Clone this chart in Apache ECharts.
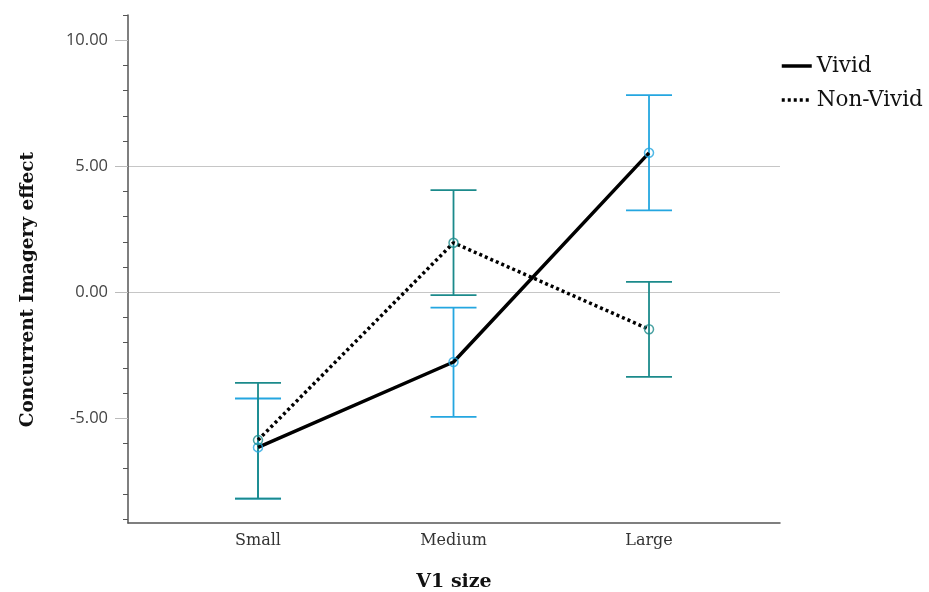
<!DOCTYPE html>
<html>
<head>
<meta charset="utf-8">
<script src="https://cdn.jsdelivr.net/npm/echarts@6/dist/echarts.min.js"></script>
<style>
  html, body { margin: 0; padding: 0; background: #fff; }
  #chart { width: 929px; height: 592px; }
</style>
</head>
<body>
<div id="chart"></div>
<script>
// V1 size groups, plotted at x = 1, 2, 3
const categories = ['Small', 'Medium', 'Large']
const categoryPos = [1, 2, 3]

// Vivid group: mean and error bar ends
const vividMean  = [-6.16, -2.77, 5.53]
const vividUpper = [-4.22, -0.61, 7.82]
const vividLower = [-8.19, -4.95, 3.25]

// Non-Vivid group
const nonVividMean  = [-5.87, 1.96, -1.47]
const nonVividUpper = [-3.60, 4.05, 0.41]
const nonVividLower = [-8.19, -0.12, -3.36]

// y axis ticks
const yLabelTicks = [-5, 0, 5, 10]
const yMinorTicks = [-9, -8, -7, -6, -5, -4, -3, -2, -1, 0, 1, 2, 3, 4, 5, 6, 7, 8, 9, 10, 11]

const VIVID_BAR = '#24a6e0'
const NONVIVID_BAR = '#1b8a8b'
const SERIF = '"DejaVu Serif", serif'

const Y_MIN = -9.16, Y_MAX = 11

function pts(values) {
  return categoryPos.map((x, i) => [x, values[i]])
}

// vertical CI line with a cap at each end
function errorBars(name, lower, upper, color, z) {
  return {
    name, type: 'custom', silent: true, z,
    data: categoryPos.map((x, i) => [x, lower[i], upper[i]]),
    encode: { x: 0, y: [1, 2] },
    renderItem(params, api) {
      const lo = api.coord([api.value(0), api.value(1)])
      const hi = api.coord([api.value(0), api.value(2)])
      const hw = 23
      const style = { stroke: color, lineWidth: 1.8, fill: null }
      return {
        type: 'group',
        children: [
          { type: 'line', shape: { x1: hi[0], y1: hi[1], x2: lo[0], y2: lo[1] }, style },
          { type: 'line', shape: { x1: hi[0] - hw, y1: hi[1], x2: hi[0] + hw, y2: hi[1] }, style },
          { type: 'line', shape: { x1: lo[0] - hw, y1: lo[1], x2: lo[0] + hw, y2: lo[1] }, style },
        ],
      }
    },
  }
}

function markers(name, values, color) {
  return {
    name, type: 'scatter', z: 5, silent: true,
    data: pts(values),
    symbol: 'circle', symbolSize: 9,
    itemStyle: { color: 'rgba(255,255,255,0)', borderColor: color, borderWidth: 1.5 },
  }
}

const chart = echarts.init(document.getElementById('chart'), null, { renderer: 'canvas' })

chart.setOption({
  backgroundColor: '#fff',
  animation: false,
  grid: { left: 128, right: 149, top: 15, bottom: 69, outerBoundsMode: 'none' },
  legend: {
    data: ['Vivid', 'Non-Vivid'],
    orient: 'vertical',
    left: 780, top: 55, padding: 0,
    itemWidth: 30, itemHeight: 20, itemGap: 12,
    itemStyle: { opacity: 0 },
    lineStyle: { width: 3.5 },
    textStyle: { fontFamily: SERIF, fontSize: 21.5, color: '#111' },
  },
  graphic: [{
    type: 'text', left: 19, top: 152, rotation: Math.PI / 2,
    style: {
      text: 'Concurrent Imagery effect',
      font: 'bold 18.5px "DejaVu Serif", serif', fill: '#111',
    },
  }],
  xAxis: {
    type: 'value', min: 0.335, max: 3.67,
    axisLine: { onZero: false, lineStyle: { color: '#555', width: 1.5 } },
    axisTick: { show: false },
    splitLine: { show: false },
    axisLabel: {
      customValues: categoryPos,
      formatter: (v) => categories[Math.round(v) - 1] || '',
      fontFamily: SERIF, fontSize: 16, color: '#333', margin: 10,
    },
    name: 'V1 size', nameLocation: 'middle', nameGap: 50,
    nameTextStyle: { fontFamily: SERIF, fontWeight: 'bold', fontSize: 19, color: '#111' },
  },
  yAxis: [
    {
      type: 'value', min: Y_MIN, max: Y_MAX, position: 'left',
      axisLine: { show: true, onZero: false, lineStyle: { color: '#555', width: 1.5 } },
      axisTick: { show: true, customValues: yMinorTicks, length: 5, lineStyle: { color: '#555' } },
      axisLabel: { show: false },
      splitLine: { show: false },
    },
    {
      type: 'value', min: Y_MIN, max: Y_MAX, position: 'left',
      axisLine: { show: false, onZero: false },
      axisTick: { show: true, customValues: yLabelTicks, length: 13, lineStyle: { color: '#bbb' } },
      axisLabel: {
        customValues: yLabelTicks,
        formatter: (v) => v.toFixed(2),
        fontFamily: '"Open Sans", sans-serif', fontSize: 16.5, color: '#444', margin: 20,
      },
      splitLine: { show: true, showMinLine: false, showMaxLine: false, lineStyle: { color: '#c6c6c6', width: 1 } },
    },
  ],
  series: [
    errorBars('Vivid CI', vividLower, vividUpper, VIVID_BAR, 2),
    errorBars('Non-Vivid CI', nonVividLower, nonVividUpper, NONVIVID_BAR, 2),
    {
      name: 'Vivid', type: 'line', z: 4, data: pts(vividMean),
      symbol: 'none', lineStyle: { color: '#000', width: 3.5 }, itemStyle: { color: '#000' },
    },
    {
      name: 'Non-Vivid', type: 'line', z: 4, data: pts(nonVividMean),
      symbol: 'none', lineStyle: { color: '#000', width: 3.5, type: [3, 3] }, itemStyle: { color: '#000' },
    },
    markers('Vivid mean', vividMean, VIVID_BAR),
    markers('Non-Vivid mean', nonVividMean, NONVIVID_BAR),
  ],
})
</script>
</body>
</html>
